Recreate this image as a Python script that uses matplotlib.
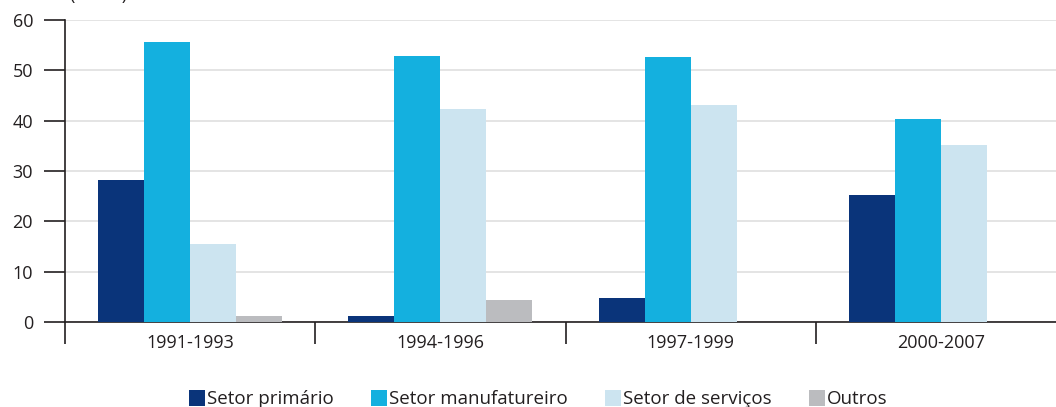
''' INVESTIMENTO POR SETOR (em %) '''

import matplotlib.pyplot as plt
import numpy as np

# DATA
periods = ["1991-1993", "1994-1996", "1997-1999", "2000-2007"]
sectors = ["Setor primário", "Setor manufatureiro", "Setor de serviços", "Outros"]
primario = [28.2, 1.2, 4.8, 25.2]
manufatureiro = [55.7, 52.9, 52.7, 40.4]
servicos = [15.5, 42.3, 43.1, 35.2]
outros = [1.2, 4.4, 0, 0]
colors = ["#0a347a", "#14b0df", "#cce4f0", "#bbbcbf"]

plt.rcParams['font.family'] = ['Open Sans', 'DejaVu Sans']

fig = plt.figure(figsize=(10.56, 4.07), dpi=100)
ax = fig.add_axes([65 / 1056, 85 / 407, 991 / 1056, 302 / 407])

x = np.arange(len(periods))
w = 0.184
series = [primario, manufatureiro, servicos, outros]
for i, (vals, lab, col) in enumerate(zip(series, sectors, colors)):
    ax.bar(x + (i - 1.5) * w, vals, w, color=col, label=lab, zorder=3)

ax.set_ylim(0, 60)
ax.set_xlim(-0.5, 3.46)
ax.set_yticks(range(0, 61, 10))
ax.grid(axis='y', color='#dcdcdc', linewidth=1.1, zorder=0)

# group labels in the middle, separators as ticks
ax.set_xticks(x)
ax.set_xticklabels(periods, fontsize=13, color='#231f20')
ax.tick_params(axis='x', which='major', length=0, pad=9)
ax.set_xticks([-0.5, 0.5, 1.5, 2.5], minor=True)
ax.tick_params(axis='x', which='minor', length=16, width=1.2, color='#231f20', direction='out')
ax.tick_params(axis='y', length=15, width=1.2, color='#231f20', labelsize=13,
               labelcolor='#231f20', pad=8)

for s in ['top', 'right']:
    ax.spines[s].set_visible(False)
ax.spines['left'].set_color('#231f20')
ax.spines['left'].set_linewidth(1.2)
ax.spines['bottom'].set_color('#231f20')
ax.spines['bottom'].set_linewidth(1.2)

# unit label, mostly cut off at the top edge as in the source
fig.text(70 / 1056, 1.012, "(em %)", fontsize=13, color='#231f20', va='center')

fig.legend(loc='lower center', bbox_to_anchor=(0.51, -0.045), ncol=4, frameon=False,
           fontsize=13.5, handlelength=0.85, handleheight=1.0, handletextpad=0.1,
           columnspacing=2.0, labelcolor='#231f20')

plt.savefig("out.png", dpi=100)
